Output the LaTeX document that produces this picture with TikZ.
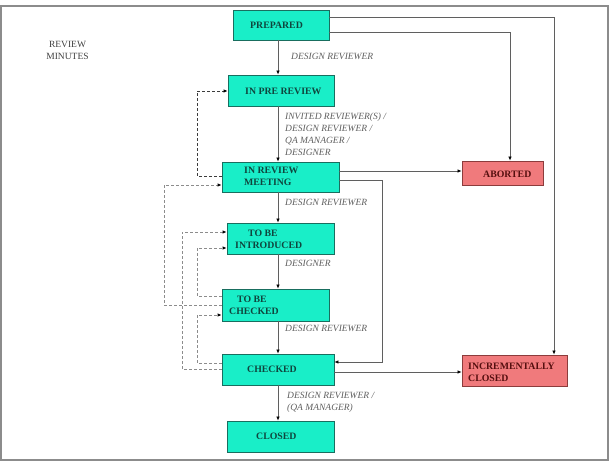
\documentclass[tikz,border=0pt]{standalone}
\usepackage{fontspec}
\setmainfont{Liberation Serif}
\usetikzlibrary{arrows.meta,calc}
\definecolor{aqua}{RGB}{25,238,200}
\definecolor{aquaedge}{RGB}{25,110,95}
\definecolor{pinkf}{RGB}{240,122,124}
\definecolor{pinkedge}{RGB}{140,60,60}
\definecolor{tealtxt}{RGB}{15,70,62}
\definecolor{redtxt}{RGB}{85,15,15}
\definecolor{lbl}{RGB}{95,95,95}
\definecolor{conncol}{RGB}{95,95,95}
\definecolor{dashdark}{RGB}{60,60,60}
\definecolor{dashlight}{RGB}{140,140,140}
\begin{document}
\begin{tikzpicture}[x=1pt,y=-1pt,
  box/.style={draw=aquaedge,fill=aqua,line width=0.8pt,inner sep=0pt},
  endbox/.style={draw=pinkedge,fill=pinkf,line width=0.8pt,inner sep=0pt},
  st/.style={font=\fontsize{9.8}{12}\selectfont\bfseries,text=tealtxt,align=left,inner sep=0pt,anchor=west},
  et/.style={font=\fontsize{9.8}{12}\selectfont\bfseries,text=redtxt,align=left,inner sep=0pt,anchor=west},
  lab/.style={font=\fontsize{9.5}{12}\selectfont\itshape,text=lbl,align=left,inner sep=0pt,anchor=west},
  conn/.style={draw=conncol,line width=0.7pt,-{Latex[length=4pt,width=3.5pt,color=black]}},
  back/.style={draw=dashlight,line width=0.8pt,dash pattern=on 3pt off 2pt,-{Latex[length=4pt,width=3.5pt,color=black]}},
  backdark/.style={back,draw=dashdark}
]
\useasboundingbox (0,0) rectangle (612,462);
\draw[black!45,line width=1.5pt] (1,6) rectangle (608,460);

% states
\node[box,minimum width=96pt,minimum height=30pt] (prep) at (281,25) {};
\node[box,minimum width=106pt,minimum height=31pt] (ipr) at (281,90.5) {};
\node[box,minimum width=117pt,minimum height=30pt] (irm) at (280.5,177) {};
\node[box,minimum width=107pt,minimum height=31pt] (tbi) at (280.5,238.5) {};
\node[box,minimum width=107pt,minimum height=32pt] (tbc) at (275.5,305) {};
\node[box,minimum width=112pt,minimum height=31pt] (chk) at (278,369.5) {};
\node[box,minimum width=107pt,minimum height=31pt] (clo) at (280.5,436.5) {};
\node[endbox,minimum width=81pt,minimum height=24pt] (abo) at (502.5,173) {};
\node[endbox,minimum width=105pt,minimum height=31pt] (inc) at (514.5,370.5) {};

% state texts
\node[st] (tprep) at (250,25) {PREPARED};
\node[st] (tipr) at (245,91) {IN PRE REVIEW};
\node[st] (tirm) at (244,176.5) {IN REVIEW\\MEETING};
\node[st] (ttbi) at (235,239) {\hspace*{13pt}TO BE\\INTRODUCED};
\node[st] (ttbc) at (229,305.5) {\hspace*{8pt}TO BE\\CHECKED};
\node[st] (tchk) at (247,369) {CHECKED};
\node[st] (tclo) at (256,436) {CLOSED};
\node[et] (tabo) at (483,174) {ABORTED};
\node[et] (tinc) at (468,372) {INCREMENTALLY\\CLOSED};

% annotation
\node[font=\fontsize{9.5}{12.5}\selectfont,text=black!75,align=center,inner sep=0pt] (rm) at (67.5,50.5) {REVIEW\\MINUTES};

% routing coordinates
\coordinate (cx) at (278,0);
\coordinate (r1) at (554,0);
\coordinate (r2) at (510,0);
\coordinate (r3) at (382,0);
\coordinate (d1) at (197,0);
\coordinate (d2) at (182,0);
\coordinate (d3) at (164,0);

% main flow
\draw[conn] (prep.south -| cx) -- (ipr.north -| cx);
\draw[conn] (ipr.south -| cx) -- (irm.north -| cx);
\draw[conn] (irm.south -| cx) -- (tbi.north -| cx);
\draw[conn] (tbi.south -| cx) -- (tbc.north -| cx);
\draw[conn] (tbc.south -| cx) -- (chk.north -| cx);
\draw[conn] (chk.south -| cx) -- (clo.north -| cx);

% side flows
\draw[conn] (prep.east |- 0,17) -- (r1 |- 0,17) -- (r1 |- inc.north);
\draw[conn] (prep.east |- 0,32) -- (r2 |- 0,32) -- (r2 |- abo.north);
\draw[conn] (irm.east |- 0,171) -- (abo.west |- 0,171);
\draw[conn] (irm.east |- 0,180) -- (r3 |- 0,180) -- (r3 |- 0,362) -- (chk.east |- 0,362);
\draw[conn] (chk.east |- 0,372) -- (inc.west |- 0,372);

% feedback (dashed)
\draw[backdark] (irm.west |- 0,176) -- (d1 |- 0,176) -- (d1 |- 0,91) -- (ipr.west |- 0,91);
\draw[back] (tbc.west |- 0,305) -- (d3 |- 0,305) -- (d3 |- 0,185) -- (irm.west |- 0,185);
\draw[back] (chk.west |- 0,369) -- (d2 |- 0,369) -- (d2 |- 0,232) -- (tbi.west |- 0,232);
\draw[back] (tbc.west |- 0,296) -- (d1 |- 0,296) -- (d1 |- 0,248) -- (tbi.west |- 0,248);
\draw[back] (chk.west |- 0,363) -- (d1 |- 0,363) -- (d1 |- 0,315) -- (tbc.west |- 0,315);

% labels
\node[lab] (l1) at (291,56) {DESIGN REVIEWER};
\node[lab] (l2) at (285,134) {INVITED REVIEWER(S) /\\DESIGN REVIEWER /\\QA MANAGER /\\DESIGNER};
\node[lab] (l3) at (285,202) {DESIGN REVIEWER};
\node[lab] (l4) at (285,263) {DESIGNER};
\node[lab] (l5) at (285,328) {DESIGN REVIEWER};
\node[lab] (l6) at (287,402) {DESIGN REVIEWER /\\(QA MANAGER)};
\end{tikzpicture}
\end{document}
